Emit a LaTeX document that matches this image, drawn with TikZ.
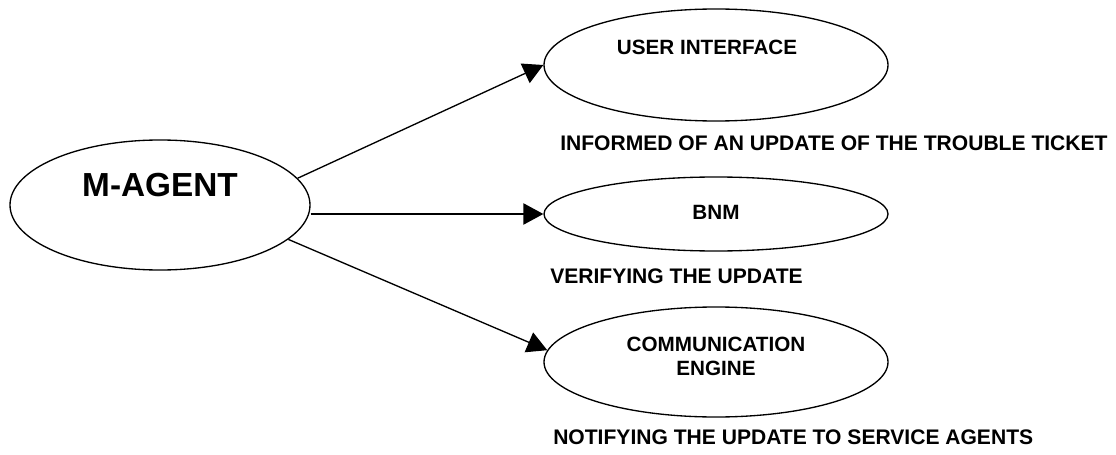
\documentclass[tikz,border=0pt]{standalone}
\usepackage{fontspec}
\setmainfont{Liberation Sans}
\usepackage{tikz}
\usetikzlibrary{positioning,arrows.meta,shapes.geometric}

\begin{document}
\begin{tikzpicture}[x=0.75pt, y=0.75pt, >={Triangle[length=15pt,width=16pt]},
oval/.style={draw, ellipse, line width=1pt, minimum width=258pt, inner sep=0pt},
tag/.style={font=\bfseries\fontsize{15.8}{18}\selectfont, anchor=west, inner sep=0pt},
link/.style={->, line width=1pt}
]
\useasboundingbox (0,0) rectangle (1116,454);

\node (magent) [oval, minimum width=225pt, minimum height=97.5pt] at (160,249) {};
\node (magenttext) [font=\bfseries\fontsize{25}{30}\selectfont] at ([yshift=15pt]magent.center) {M-AGENT};

\node (ui) [oval, minimum height=84pt] at (716,389) {};
\node (uitext) [font=\bfseries\fontsize{15.5}{18}\selectfont] at ([xshift=-6.75pt,yshift=13.5pt]ui.center) {USER INTERFACE};
\node (uitag) [tag] at (560,311) {INFORMED OF AN UPDATE OF THE TROUBLE TICKET};

\node (bnm) [oval, minimum height=55.5pt] at (716,240) {};
\node (bnmtext) [font=\bfseries\fontsize{15.5}{18}\selectfont] at ([yshift=1.5pt]bnm.center) {BNM};
\node (bnmtag) [tag] at (550,178) {VERIFYING THE UPDATE};

\node (comm) [oval, minimum height=82.5pt] at (716,92) {};
\node (commtext) [font=\bfseries\fontsize{15.5}{18}\selectfont, align=center] at ([yshift=4.5pt]comm.center) {COMMUNICATION\\ENGINE};
\node (commtag) [tag] at (553,17) {NOTIFYING THE UPDATE TO SERVICE AGENTS};

\draw[link] (magent.11) -- (ui.west);
\draw[link] (magent.east |- bnm.west) -- (bnm.west);
\draw[link] (magent.-15) -- (comm.176);

\end{tikzpicture}
\end{document}
